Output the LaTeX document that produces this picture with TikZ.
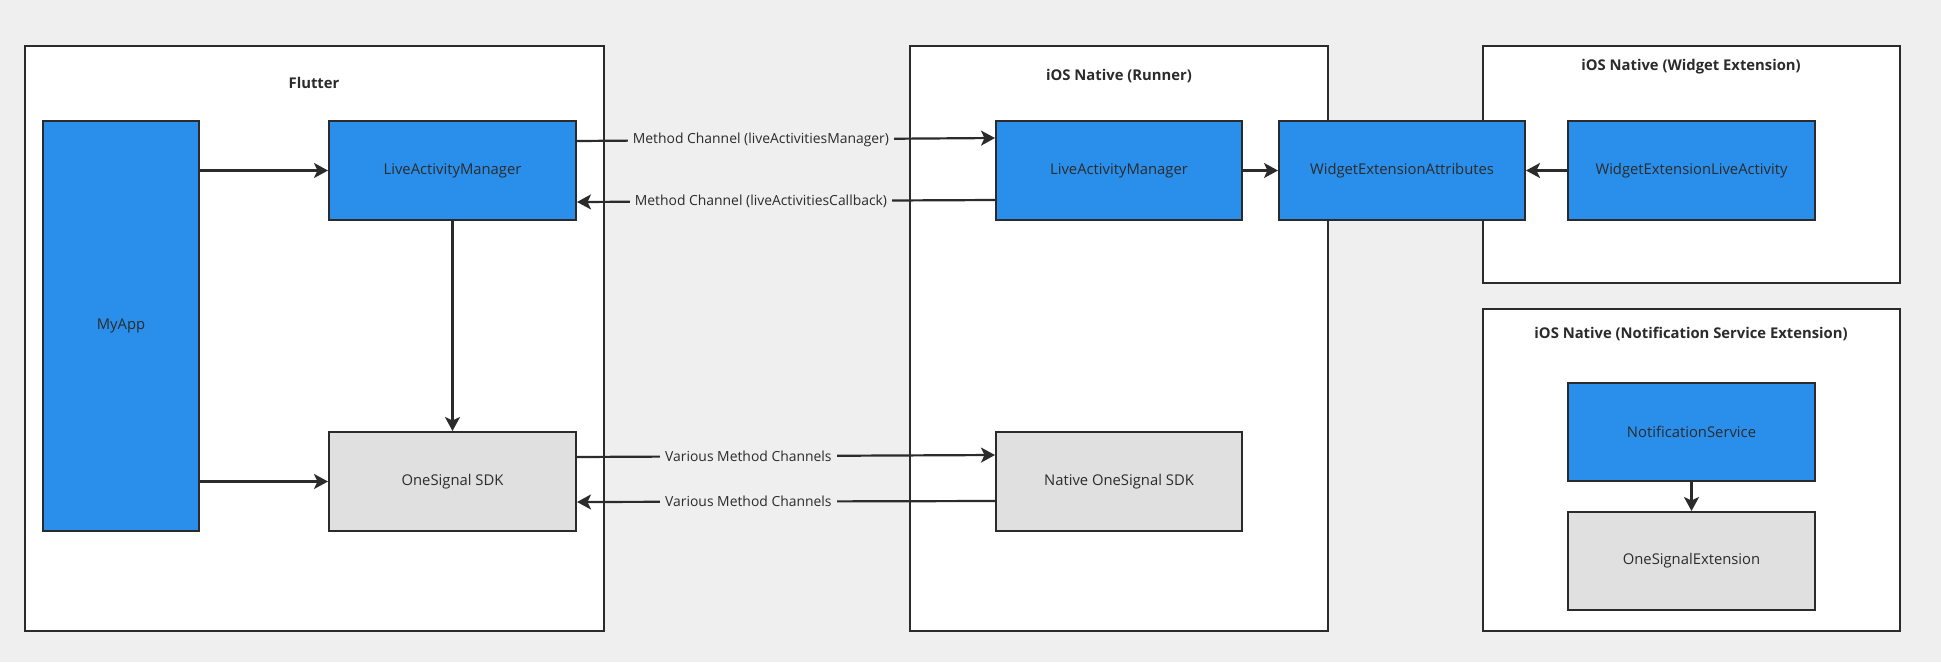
\documentclass[tikz,border=0pt]{standalone}
\usepackage{fontspec}
\setmainfont{Open Sans}
\usepackage{xcolor}
\usetikzlibrary{arrows.meta}

\definecolor{canvasgray}{HTML}{EFEFEF}
\definecolor{appblue}{HTML}{2A8FEB}
\definecolor{sdkgray}{HTML}{E0E0E0}
\definecolor{inkdark}{HTML}{2B2B2B}

\tikzset{
  panel/.style={draw=inkdark, fill=white, line width=2pt},
  paneltitle/.style={font=\fontsize{14.8}{18}\selectfont\bfseries, text=inkdark},
  bluebox/.style={draw=inkdark, fill=appblue, line width=2pt, minimum width=247pt,
    minimum height=99pt, inner sep=0pt, font=\fontsize{14.8}{18}\selectfont, text=inkdark},
  graybox/.style={bluebox, fill=sdkgray},
  link/.style={draw=inkdark, line width=2.2pt, -{Stealth[length=14pt,width=15pt,inset=3.5pt]}},
  chan/.style={fill=canvasgray, inner xsep=5pt, inner ysep=1pt,
    font=\fontsize{13.9}{16}\selectfont, text=inkdark}
}

\begin{document}
\begin{tikzpicture}[x=1pt, y=-1pt, line cap=butt, line join=miter]
\useasboundingbox (0,0) rectangle (1941,662);
\fill[canvasgray] (0,0) rectangle (1941,662);

% containers
\draw[panel] (25,46) rectangle (604,631);
\draw[panel] (910,46) rectangle (1328,631);
\draw[panel] (1483,46) rectangle (1900,283);
\draw[panel] (1483,309) rectangle (1900,631);
\node[paneltitle] (tflutter) at (314,83) {Flutter};
\node[paneltitle] (trunner) at (1119,76) {iOS Native (Runner)};
\node[paneltitle] (twidget) at (1691,67) {iOS Native (Widget Extension)};
\node[paneltitle] (tnotif) at (1691,334) {iOS Native (Notification Service Extension)};

% flutter side
\node[bluebox, minimum width=156pt, minimum height=410pt] (myapp) at (121,326) {MyApp};
\node[bluebox] (lamf) at (452.5,170.5) {LiveActivityManager};
\node[graybox] (ossdk) at (452.5,481.5) {OneSignal SDK};

% runner side
\node[bluebox, minimum width=246pt] (lamn) at (1119,170.5) {LiveActivityManager};
\node[graybox, minimum width=246pt] (nossdk) at (1119,481.5) {Native OneSignal SDK};
\node[bluebox, minimum width=246pt] (wea) at (1402,170.5) {WidgetExtensionAttributes};

% extensions
\node[bluebox] (wela) at (1691.5,170.5) {WidgetExtensionLiveActivity};
\node[bluebox, minimum height=98pt] (nsvc) at (1691.5,432) {NotificationService};
\node[graybox, minimum height=98pt] (osext) at (1691.5,561) {OneSignalExtension};

% connectors
\draw[link] (myapp.east |- lamf.west) -- (lamf.west);
\draw[link] (myapp.east |- ossdk.west) -- (ossdk.west);
\draw[link] (lamf.south) -- (ossdk.north);
\draw[link] ([yshift=-21pt]lamf.north east) -- node[chan, pos=0.44] {Method Channel (liveActivitiesManager)} ([yshift=-18pt]lamn.north west);
\draw[link] ([yshift=-80pt]lamn.north west) -- node[chan, pos=0.56] {Method Channel (liveActivitiesCallback)} ([yshift=-82pt]lamf.north east);
\draw[link] ([yshift=-26pt]ossdk.north east) -- node[chan, pos=0.41] {Various Method Channels} ([yshift=-24pt]nossdk.north west);
\draw[link] ([yshift=-70pt]nossdk.north west) -- node[chan, pos=0.59] {Various Method Channels} ([yshift=-71pt]ossdk.north east);
\draw[link] (lamn) -- (wea);
\draw[link] (wela) -- (wea);
\draw[link] (nsvc) -- (osext);
\end{tikzpicture}
\end{document}
